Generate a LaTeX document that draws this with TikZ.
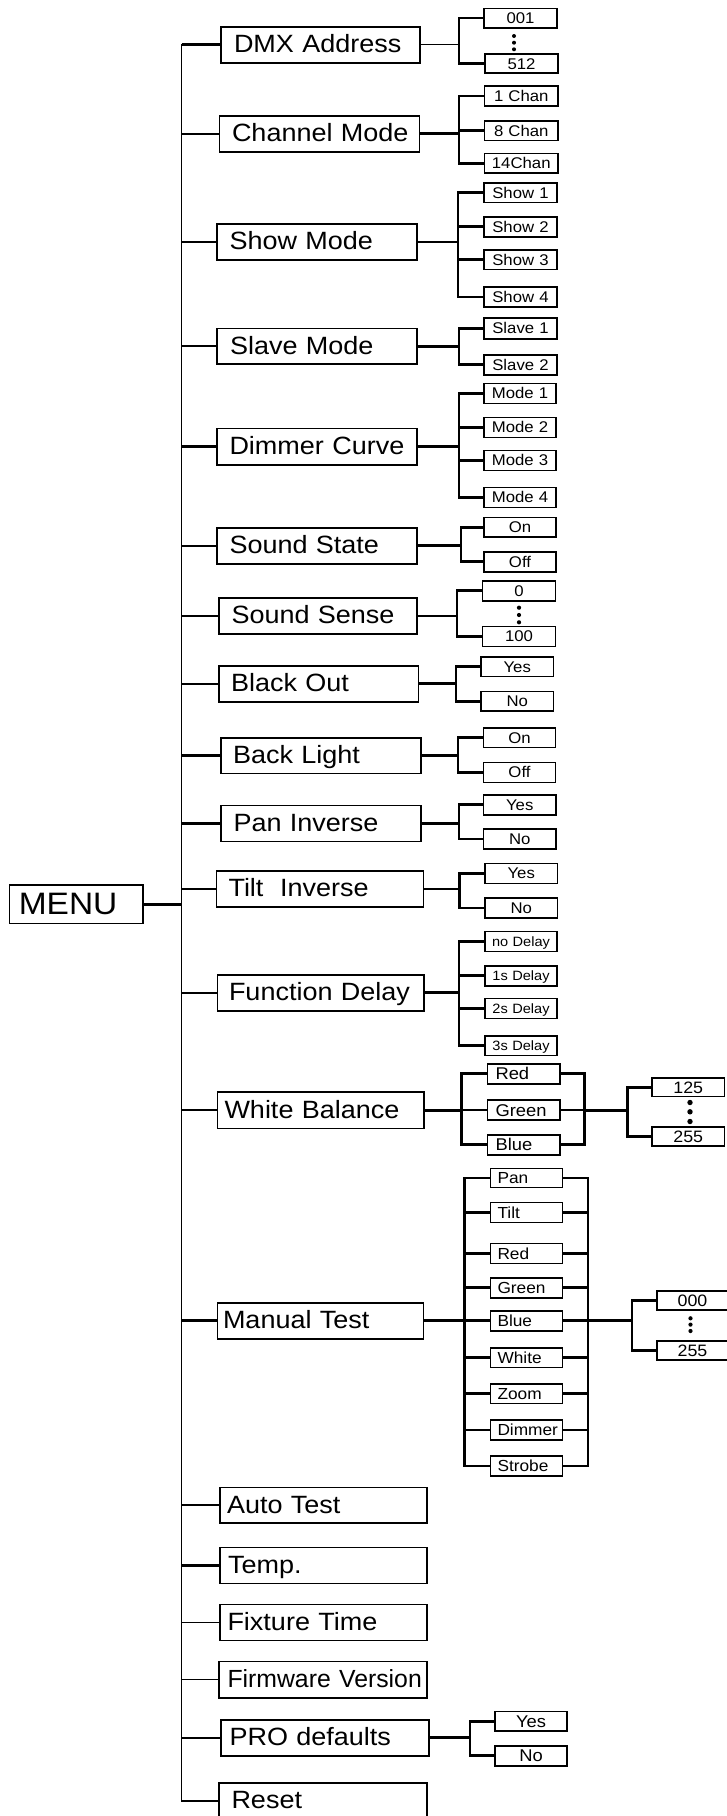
\documentclass[tikz,border=0pt]{standalone}
\usepackage{fontspec}
\newfontfamily\lab[FakeStretch=1.08]{Liberation Sans}
\newfontfamily\labn{Liberation Sans}
\newcommand\BX[8]{%
 \pgfmathsetmacro\bxc{(#3+#4)/2}%
 \pgfmathsetmacro\byc{(#5+#6)/2}%
 \pgfmathsetmacro\bw{#4-#3}%
 \pgfmathsetmacro\bh{#6-#5}%
 \pgfmathsetmacro\btw{#4-#3-2*#7}%
 \node[#1, minimum width=\bw pt, minimum height=\bh pt, text width=\btw pt, inner xsep=#7pt] (#2) at (\bxc,\byc) {\mbox{#8}};}
\tikzset{
 bx/.style={draw=black, line width=1.6pt, inner ysep=0pt, outer sep=0pt, text=black},
 mainb/.style={bx, font=\lab\fontsize{25}{30}\selectfont, text height=17.9pt, text depth=2pt, align=left},
 menub/.style={bx, font=\lab\fontsize{31}{36}\selectfont, text height=22.2pt, text depth=1pt, align=left},
 smb/.style={bx, font=\lab\fontsize{15.5}{18}\selectfont, text height=11.1pt, text depth=0pt, align=center},
 dlb/.style={smb, font=\lab\fontsize{13.5}{16}\selectfont, text height=9.7pt},
 wbb/.style={smb, font=\lab\fontsize{17}{20}\selectfont, text height=12.2pt, align=left},
 mtb/.style={smb, font=\lab\fontsize{16}{19}\selectfont, text height=11.5pt, align=left},
 valb/.style={smb, font=\lab\fontsize{16.5}{19}\selectfont, text height=11.8pt},
 prob/.style={smb, font=\lab\fontsize{17}{20}\selectfont, text height=12.2pt},
 vline/.style={line width=1.9pt, line cap=rect},
 stub/.style={line width=2.5pt},
 tstub/.style={line width=1.4pt},
 cn/.style={line width=2.8pt},
 tcn/.style={line width=1.3pt},
 dot/.style={fill=black},
}
\begin{document}
\begin{tikzpicture}[x=1pt,y=-1pt]
\useasboundingbox (0,0) rectangle (726,1816);
% ---------- menu and main boxes
\BX{menub}{menu}{9.3}{143}{885}{923.5}{9.5}{MENU}
\BX{mainb}{dmx}{221}{420}{26.7}{62.7}{13}{DMX Address}
\BX{mainb}{chm}{219.5}{419.5}{115.7}{152}{12.5}{Channel Mode}
\BX{mainb}{shm}{217}{417}{224}{260}{12.5}{Show Mode}
\BX{mainb}{slm}{217}{417}{328.3}{364}{13}{Slave Mode}
\BX{mainb}{dim}{217}{417}{428.3}{464.7}{12.5}{Dimmer Curve}
\BX{mainb}{sst}{217}{417}{527.7}{564}{12.5}{Sound State}
\BX{mainb}{sse}{219}{417}{598}{634}{12.5}{Sound Sense}
\BX{mainb}{blo}{219}{418.5}{665.7}{702}{12}{Black Out}
\BX{mainb}{bkl}{221}{421}{737.7}{773.3}{12}{Back Light}
\BX{mainb}{pni}{221}{421}{805.3}{841.3}{12.5}{Pan Inverse}
\BX{mainb}{tli}{216.5}{423.5}{871}{907}{12}{Tilt\ \ Inverse}
\BX{mainb}{fnd}{217.5}{424}{974.7}{1011}{11.5}{Function Delay}
\BX{mainb}{wbl}{217.5}{424}{1092}{1128.3}{7}{White Balance}
\BX{mainb}{mnt}{217.5}{423.5}{1302.7}{1338.7}{5.5}{Manual Test}
\BX{mainb}{aut}{220}{427}{1487.3}{1523}{7}{Auto Test}
\BX{mainb}{tmp}{220}{427}{1547.3}{1583.3}{8}{Temp.}
\BX{mainb}{fxt}{220}{427}{1604.3}{1640.3}{7.5}{Fixture Time}
\BX{mainb, font=\labn\fontsize{24.8}{30}\selectfont}{fwv}{219}{427}{1661.3}{1697.7}{8.5}{Firmware Version}
\BX{mainb}{pro}{221}{429}{1720}{1755.7}{8.5}{PRO defaults}
\BX{mainb}{rst}{219}{427}{1783}{1819}{12.5}{Reset}
% ---------- children
\BX{smb}{d1}{484}{557}{8.3}{27.7}{0}{001}
\BX{smb}{d2}{485}{558}{54}{73}{0}{512}
\BX{smb}{c1}{484.5}{558}{86}{106}{0}{1 Chan}
\BX{smb}{c2}{484.5}{558}{120.7}{140.3}{0}{8 Chan}
\BX{smb}{c3}{484.5}{558}{153.3}{173}{0}{14Chan}
\BX{smb}{s1}{484}{557}{182.7}{202.3}{0}{Show 1}
\BX{smb}{s2}{484}{557}{216.7}{236.7}{0}{Show 2}
\BX{smb}{s3}{484}{557}{249.7}{269.3}{0}{Show 3}
\BX{smb}{s4}{484}{557}{287}{307}{0}{Show 4}
\BX{smb}{l1}{484}{557}{318}{338.7}{0}{Slave 1}
\BX{smb}{l2}{484}{557}{354.7}{374.7}{0}{Slave 2}
\BX{smb}{m1}{484}{556}{383.3}{403.3}{0}{Mode 1}
\BX{smb}{m2}{484}{556}{417.3}{437.3}{0}{Mode 2}
\BX{smb}{m3}{484}{556}{450.3}{470.3}{0}{Mode 3}
\BX{smb}{m4}{484}{556}{487.3}{507.3}{0}{Mode 4}
\BX{smb}{o1}{484}{556}{517.3}{537}{0}{On}
\BX{smb}{o2}{484}{556}{551.7}{571.7}{0}{Off}
\BX{smb}{n1}{482.5}{555.5}{581}{600.7}{0}{0}
\BX{smb}{n2}{482.5}{555.5}{626.3}{646.3}{0}{100}
\BX{smb}{b1}{481}{553.5}{656.7}{676.3}{0}{Yes}
\BX{smb}{b2}{481}{553.5}{691.3}{711}{0}{No}
\BX{smb}{k1}{483.5}{555.5}{727.7}{747.3}{0}{On}
\BX{smb}{k2}{483.5}{555.5}{762.3}{782.3}{0}{Off}
\BX{smb}{p1}{483.5}{556}{794.7}{814.7}{0}{Yes}
\BX{smb}{p2}{483.5}{556}{829}{849}{0}{No}
\BX{smb}{t1}{485}{557.5}{863.3}{883.3}{0}{Yes}
\BX{smb}{t2}{485}{557.5}{898}{918}{0}{No}
\BX{dlb}{f1}{485}{557}{931.3}{951.3}{0}{no Delay}
\BX{dlb}{f2}{485}{557}{965.7}{985.7}{0}{1s Delay}
\BX{dlb}{f3}{485}{557}{998.3}{1018.3}{0}{2s Delay}
\BX{dlb}{f4}{485}{557}{1035.7}{1055.3}{0}{3s Delay}
\BX{wbb}{wr}{487.5}{560}{1063.7}{1083.7}{8}{Red}
\BX{wbb}{wg}{487.5}{560}{1100}{1120}{8}{Green}
\BX{wbb}{wb}{487.5}{560}{1134.7}{1154.7}{8}{Blue}
\BX{valb}{w1}{652}{724.5}{1077.7}{1096.5}{0}{125}
\BX{valb}{w2}{652}{724.5}{1126.7}{1146}{0}{255}
\BX{mtb}{q1}{490.5}{562.5}{1168.3}{1187.5}{7}{Pan}
\BX{mtb}{q2}{490.5}{562.5}{1202.3}{1222.3}{7}{Tilt}
\BX{mtb}{q3}{490.5}{562.5}{1243.3}{1263.3}{7}{Red}
\BX{mtb}{q4}{490.5}{562.5}{1277.7}{1297.7}{7}{Green}
\BX{mtb}{q5}{490.5}{562.5}{1310.7}{1330.7}{7}{Blue}
\BX{mtb}{q6}{490.5}{562.5}{1347.7}{1367.3}{7}{White}
\BX{mtb}{q7}{490.5}{562.5}{1383.7}{1403.3}{7}{Zoom}
\BX{mtb}{q8}{490.5}{562.5}{1420}{1440}{7}{Dimmer}
\BX{mtb}{q9}{490.5}{562.5}{1456}{1476}{7}{Strobe}
\BX{valb}{v1}{657}{728}{1290.7}{1310}{0}{000}
\BX{valb}{v2}{657}{728}{1340.7}{1360}{0}{255}
\BX{prob}{r1}{495}{567}{1711.3}{1731}{0}{Yes}
\BX{prob}{r2}{495}{567}{1746}{1765.7}{0}{No}
% ---------- coordinates for vertical rails
\coordinate (M) at (181.5,0);
\coordinate (bD) at (459,0);
\coordinate (bC) at (459,0);
\coordinate (bS) at (458,0);
\coordinate (bL) at (459,0);
\coordinate (bM) at (459,0);
\coordinate (bO) at (461,0);
\coordinate (bN) at (457,0);
\coordinate (bB) at (456,0);
\coordinate (bK) at (458,0);
\coordinate (bP) at (459,0);
\coordinate (bT) at (459.5,0);
\coordinate (bF) at (459,0);
\coordinate (bW) at (461.5,0);
\coordinate (bW2) at (584.5,0);
\coordinate (bW3) at (627.5,0);
\coordinate (bQ) at (464.5,0);
\coordinate (bQ2) at (588,0);
\coordinate (bQ3) at (632,0);
\coordinate (bR) at (470,0);
% ---------- main rail
\draw[vline] (dmx.west -| M) -- (rst.west -| M);
\draw[stub] (menu.east) -- (menu.east -| M);
\foreach \n in {dmx,chm,shm,slm,dim,sst,sse,blo,bkl,pni,tli,fnd,wbl,mnt,aut,tmp,pro}
  \draw[stub] (\n.west -| M) -- (\n.west);
\foreach \n in {fxt,fwv}
  \draw[tstub] (\n.west -| M) -- (\n.west);
\draw[line width=1.7pt] (rst.west -| M) -- (rst.west);
% ---------- simple brackets
\draw[tcn] (dmx.east) -- (dmx.east -| bD);
\foreach \c in {d1,d2} \draw[cn] (dmx.east -| bD) |- (\c.west);
\draw[cn] (chm.east) -- (chm.east -| bC);
\foreach \c in {c1,c2,c3} \draw[cn] (chm.east -| bC) |- (\c.west);
\draw[cn] (shm.east) -- (shm.east -| bS);
\foreach \c in {s1,s2,s3,s4} \draw[cn] (shm.east -| bS) |- (\c.west);
\draw[cn] (slm.east) -- (slm.east -| bL);
\foreach \c in {l1,l2} \draw[cn] (slm.east -| bL) |- (\c.west);
\draw[cn] (dim.east) -- (dim.east -| bM);
\foreach \c in {m1,m2,m3,m4} \draw[cn] (dim.east -| bM) |- (\c.west);
\draw[cn] (sst.east) -- (sst.east -| bO);
\foreach \c in {o1,o2} \draw[cn] (sst.east -| bO) |- (\c.west);
\draw[tcn] (sse.east) -- (sse.east -| bN);
\foreach \c in {n1,n2} \draw[cn] (sse.east -| bN) |- (\c.west);
\draw[cn] (blo.east) -- (blo.east -| bB);
\foreach \c in {b1,b2} \draw[cn] (blo.east -| bB) |- (\c.west);
\draw[cn] (bkl.east) -- (bkl.east -| bK);
\foreach \c in {k1,k2} \draw[cn] (bkl.east -| bK) |- (\c.west);
\draw[cn] (pni.east) -- (pni.east -| bP);
\foreach \c in {p1,p2} \draw[cn] (pni.east -| bP) |- (\c.west);
\draw[cn] (tli.east) -- (tli.east -| bT);
\foreach \c in {t1,t2} \draw[cn] (tli.east -| bT) |- (\c.west);
\draw[cn] (fnd.east) -- (fnd.east -| bF);
\foreach \c in {f1,f2,f3,f4} \draw[cn] (fnd.east -| bF) |- (\c.west);
\draw[cn] (pro.east) -- (pro.east -| bR);
\foreach \c in {r1,r2} \draw[cn] (pro.east -| bR) |- (\c.west);
% ---------- white balance
\draw[cn] (wbl.east) -- (wbl.east -| bW);
\foreach \c in {wr,wg,wb} \draw[cn] (wbl.east -| bW) |- (\c.west);
\foreach \c in {wr,wg,wb} \draw[cn] (\c.east) -| (wbl.east -| bW2);
\draw[cn] (wbl.east -| bW2) -- (wbl.east -| bW3);
\foreach \c in {w1,w2} \draw[cn] (wbl.east -| bW3) |- (\c.west);
% ---------- manual test
\draw[cn] (mnt.east) -- (mnt.east -| bQ);
\foreach \c in {q1,q2,q3,q4,q5,q6,q7,q8,q9} \draw[cn] (mnt.east -| bQ) |- (\c.west);
\foreach \c in {q1,q2,q3,q4,q5,q6,q7,q8,q9} \draw[cn] (\c.east) -| (mnt.east -| bQ2);
\draw[cn] (mnt.east -| bQ2) -- (mnt.east -| bQ3);
\foreach \c in {v1,v2} \draw[cn] (mnt.east -| bQ3) |- (\c.west);
% ---------- ellipsis dots
\foreach \y in {36,42.7,49.3} \fill[dot] (514,\y) circle[radius=2pt];
\foreach \y in {607.7,615,622.3} \fill[dot] (519,\y) circle[radius=2.1pt];
\foreach \y in {1102.5,1111.8,1121.5} \fill[dot] (690,\y) circle[radius=2.7pt];
\foreach \y in {1318.3,1324.6,1331} \fill[dot] (690.5,\y) circle[radius=2.1pt];
\end{tikzpicture}
\end{document}
